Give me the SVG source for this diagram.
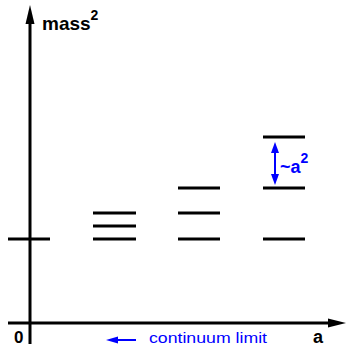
<svg xmlns="http://www.w3.org/2000/svg" width="347" height="347" viewBox="0 0 347 347">
<style>
.lv{stroke:#000;stroke-width:3}
.ax{stroke:#000;stroke-width:3}
.t{font-family:"Liberation Sans",Arial,sans-serif;font-weight:bold;font-size:18px;fill:#000}
.b{font-family:"Liberation Sans",Arial,sans-serif;font-size:15px;fill:#0000ff}
</style>
<rect width="347" height="347" fill="#fff"/>
<g id="axes">
<line class="ax" x1="30" y1="344" x2="30" y2="22"/>
<polygon points="30,5 25.5,24 34.5,24" fill="#000"/>
<line class="ax" x1="8" y1="323" x2="330" y2="323"/>
<polygon points="346,323 328,318.5 328,327.5" fill="#000"/>
<text class="t" x="42" y="30" style="font-size:19px">mass<tspan font-size="14" dy="-10">2</tspan></text>
<text class="t" x="14" y="343" style="font-size:17px">0</text>
<text class="t" x="313" y="343">a</text>
</g>
<g id="limit">
<line x1="114" y1="340" x2="136" y2="340" stroke="#0000ff" stroke-width="2"/>
<polygon points="106,340 118,336.5 118,343.5" fill="#0000ff"/>
<text class="b" x="149" y="343" textLength="118" lengthAdjust="spacingAndGlyphs">continuum limit</text>
</g>
<g id="levels0"><line class="lv" x1="8" y1="239" x2="50" y2="239"/></g>
<g id="levels1">
<line class="lv" x1="93" y1="213" x2="136" y2="213"/>
<line class="lv" x1="93" y1="226" x2="136" y2="226"/>
<line class="lv" x1="93" y1="239" x2="136" y2="239"/>
</g>
<g id="levels2">
<line class="lv" x1="178" y1="188" x2="220" y2="188"/>
<line class="lv" x1="178" y1="213" x2="220" y2="213"/>
<line class="lv" x1="178" y1="239" x2="220" y2="239"/>
</g>
<g id="levels3">
<line class="lv" x1="263" y1="137" x2="305" y2="137"/>
<line class="lv" x1="263" y1="188" x2="305" y2="188"/>
<line class="lv" x1="263" y1="239" x2="305" y2="239"/>
</g>
<g id="spacing">
<line x1="275" y1="150" x2="275" y2="177" stroke="#0000ff" stroke-width="2"/>
<polygon points="275,142 271,153 279,153" fill="#0000ff"/>
<polygon points="275,185 271,174 279,174" fill="#0000ff"/>
<text class="t" x="280" y="173" style="fill:#0000ff">~a<tspan font-size="14" dy="-10">2</tspan></text>
</g>
</svg>
